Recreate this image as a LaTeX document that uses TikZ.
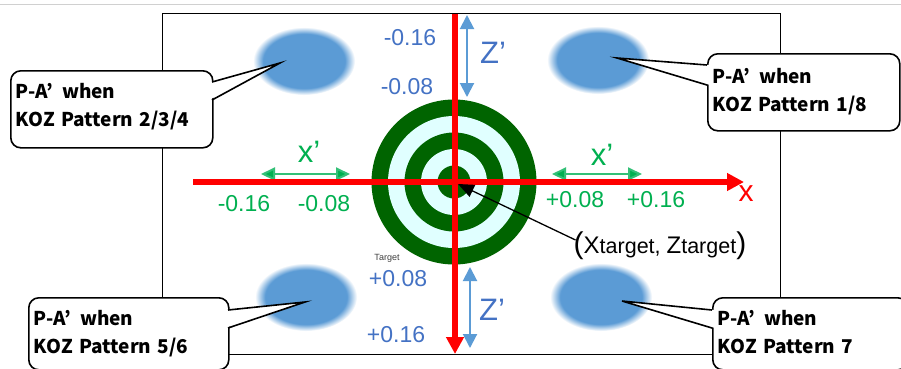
\documentclass[tikz,border=0pt]{standalone}
\usepackage{fontspec}
\setmainfont{Liberation Sans}
\newfontfamily\jpf{Noto Sans CJK JP}
\usetikzlibrary{arrows.meta,shapes.geometric,calc}
\definecolor{blobc}{HTML}{5B9BD5}
\definecolor{zblue}{HTML}{4472C4}
\definecolor{zarrow}{HTML}{5B9BD5}
\definecolor{xgreen}{HTML}{00B050}
\definecolor{xgreenl}{HTML}{33C077}
\definecolor{dgreen}{HTML}{006400}
\definecolor{lcyan}{HTML}{E0FFFF}
\definecolor{topgray}{HTML}{D0D0D0}
\pgfdeclareradialshading{blobshade}{\pgfpoint{0bp}{0bp}}{color(0bp)=(blobc); color(20bp)=(blobc); color(25bp)=(white); color(50bp)=(white)}
\newcommand{\paw}{P-A’\hspace{0.45em}when}
\newcommand{\upby}[1]{\\[#1]\mbox{}}
\tikzset{
  blob/.style={ellipse, minimum width=102, minimum height=68, inner sep=0, shading=blobshade},
  cbox/.style={draw, line width=1.6, rounded corners=10, fill=white, align=left, inner xsep=5, inner ysep=0,
     font=\jpf\bfseries\fontsize{19}{28}\selectfont, anchor=north west},
  tailline/.style={line width=1.6, line join=miter},
  redax/.style={red, line width=6, -{Triangle[length=17,width=17]}},
  zarr/.style={zarrow, line width=2, {Triangle[length=14,width=14]}-{Triangle[length=14,width=14]}},
  xarr/.style={xgreenl, line width=2, {Triangle[length=14,width=13,fill=xgreen]}-{Triangle[length=14,width=13,fill=xgreen]}},
  zlab/.style={zblue, font=\fontsize{23}{23}\selectfont},
  xlab/.style={xgreen, font=\fontsize{23}{23}\selectfont},
  zbig/.style={zblue, font=\fontsize{31}{31}\selectfont},
  xbig/.style={xgreen, font=\fontsize{31}{31}\selectfont},
  tarr/.style={black, line width=1.3, -{Triangle[length=16,width=13]}}
}
\begin{document}
\begin{tikzpicture}[x=1pt,y=-1pt]
\useasboundingbox (0,0) rectangle (901,368);
\clip (0,0) rectangle (901,368);
\fill[white] (0,0) rectangle (901,368);
% top gray rule
\draw[topgray, line width=1.5] (0,4.5) -- (901,4.5);
% frame
\draw[black, line width=1] (162,13) rectangle (780,354);
% blobs
\node[blob] (b1) at (304,61) {};
\node[blob] (b2) at (598,60) {};
\node[blob] (b3) at (306,297) {};
\node[blob] (b4) at (601,297) {};
% target rings
\node[circle, fill=dgreen, minimum size=165, inner sep=0] (r1) at (454,182) {};
\node[circle, fill=lcyan, minimum size=132, inner sep=0] (r2) at (454,182) {};
\node[circle, fill=dgreen, minimum size=99, inner sep=0] (r3) at (454,182) {};
\node[circle, fill=lcyan, minimum size=66, inner sep=0] (r4) at (454,182) {};
\node[circle, fill=dgreen, minimum size=33, inner sep=0] (r5) at (454,182) {};
% x' arrows
\coordinate (xl1) at (261,174); \coordinate (xl2) at (350,174);
\coordinate (xr1) at (552,174); \coordinate (xr2) at (642,174);
\draw[xarr] (xl1) -- (xl2);
\draw[xarr] (xr1) -- (xr2);
% z' arrows
\coordinate (zt1) at (467,15); \coordinate (zt2) at (467,97);
\coordinate (zb1) at (470,267); \coordinate (zb2) at (470,348);
\draw[zarr] (zt1) -- (zt2);
\draw[zarr] (zb1) -- (zb2);
% red axes
\coordinate (hx1) at (193,182); \coordinate (hx2) at (744,182);
\coordinate (vz1) at (455,14); \coordinate (vz2) at (455,354);
\draw[redax] (hx1) -- (hx2);
\draw[redax] (vz1) -- (vz2);
% labels
\node[zlab] (zm16) at (410,38) {-0.16};
\node[zlab] (zm08) at (407,87) {-0.08};
\node[zlab] (zp08) at (398,279) {+0.08};
\node[zlab] (zp16) at (396,335) {+0.16};
\node[zbig] (zt) at (493,53) {Z’};
\node[zbig] (zb) at (492,310) {Z’};
\node[xlab] (xm16) at (244,204) {-0.16};
\node[xlab] (xm08) at (324,204) {-0.08};
\node[xlab] (xp08) at (575,200) {+0.08};
\node[xlab] (xp16) at (656,200) {+0.16};
\node[xbig] (xl) at (309,152) {x’};
\node[xbig] (xr) at (602,155) {x’};
\node[red, font=\fontsize{30}{30}\selectfont] (xa) at (746,194) {x};
\node[black!75, font=\fontsize{9}{9}\selectfont] (tg) at (387,258) {Target};
% target label
\node[black, font=\fontsize{21.5}{21.5}\selectfont, inner sep=0] (tl) at (660,246)
  {{\fontsize{30}{30}\selectfont(}{\fontsize{24}{24}\selectfont X}target, {\fontsize{24}{24}\selectfont Z}target{\fontsize{30}{30}\selectfont)}};
\coordinate (tp) at (458,184);
\draw[tarr] ($(tl.west)+(2,-6)$) -- (tp);
% callouts
\node[cbox, minimum width=202, minimum height=77, text width=192] (c1) at (10,70) {\paw\\KOZ Pattern 2/3/4\upby{-20pt}};
\node[cbox, minimum width=192, minimum height=77, text width=182] (c2) at (707,53) {\paw\\KOZ Pattern 1/8\upby{-23pt}};
\node[cbox, minimum width=200, minimum height=72, text width=190] (c3) at (28,297) {\paw\\KOZ Pattern 5/6\upby{-24pt}};
\node[cbox, minimum width=195, minimum height=72, text width=185] (c4) at (712,297) {\paw\\KOZ Pattern 7\upby{-25pt}};
% tails
\coordinate (t1) at (280,63); \coordinate (t2) at (617,58);
\coordinate (t3) at (305,302); \coordinate (t4) at (622,301);
\fill[white] (209,82) -- (t1) -- (209,100) -- cycle;
\draw[tailline] (212,82) -- (t1) -- (212,100);
\fill[white] (710,65) -- (t2) -- (710,85) -- cycle;
\draw[tailline] (707,65) -- (t2) -- (707,85);
\fill[white] (225,310) -- (t3) -- (225,328) -- cycle;
\draw[tailline] (228,310) -- (t3) -- (228,328);
\fill[white] (715,310) -- (t4) -- (715,328) -- cycle;
\draw[tailline] (712,310) -- (t4) -- (712,328);
\end{tikzpicture}
\end{document}
